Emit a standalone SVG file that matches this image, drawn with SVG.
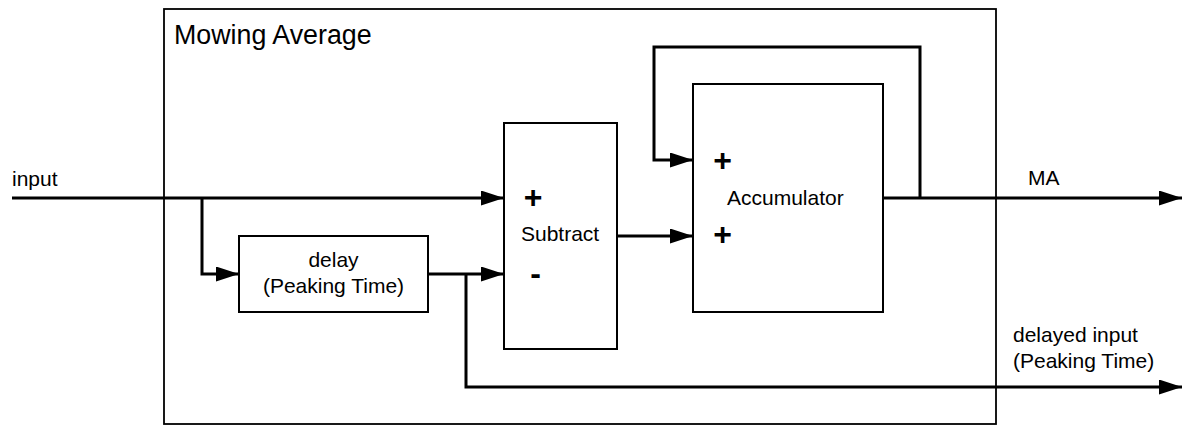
<svg xmlns="http://www.w3.org/2000/svg" width="1185" height="425" viewBox="0 0 1185 425">
<style>
.box{fill:#fff;stroke:#000;stroke-width:2}
.frame{fill:#fff;stroke:#000;stroke-width:1.8}
.wire{fill:none;stroke:#000;stroke-width:3;stroke-linejoin:miter}
.lbl{font-family:"Liberation Sans",Arial,sans-serif;font-size:21px;fill:#000}
.title{font-family:"Liberation Sans",Arial,sans-serif;font-size:26.8px;fill:#000}
.sign{font-family:"Liberation Sans",Arial,sans-serif;font-size:32px;font-weight:bold;fill:#000;text-anchor:middle}
</style>
<defs>
<marker id="arr" markerUnits="userSpaceOnUse" markerWidth="23" markerHeight="15" refX="23" refY="7.5" orient="auto">
<path d="M0,0 L23,7.5 L0,15 Z" fill="#000"/>
</marker>
</defs>
<rect width="1185" height="425" fill="#fff"/>
<g id="mowing-average">
<rect class="frame" x="164" y="9" width="832" height="415"/>
<text class="title" x="174" y="44">Mowing Average</text>
</g>
<g id="delay">
<rect class="box" x="239" y="236" width="189" height="76"/>
<text class="lbl" x="333.5" y="267" text-anchor="middle">delay</text>
<text class="lbl" x="333.5" y="293" text-anchor="middle">(Peaking Time)</text>
</g>
<g id="subtract">
<rect class="box" x="504" y="123" width="113" height="226"/>
<text class="sign" x="533" y="207.5">+</text>
<text class="lbl" x="521" y="241">Subtract</text>
<text class="sign" x="535.5" y="284">-</text>
</g>
<g id="accumulator">
<rect class="box" x="693" y="84" width="190" height="228"/>
<text class="sign" x="722.7" y="171">+</text>
<text class="lbl" x="727" y="205">Accumulator</text>
<text class="sign" x="722.7" y="245">+</text>
</g>
<g id="connectors">
<path class="wire" d="M12,198 H504" marker-end="url(#arr)"/>
<path class="wire" d="M202,198 V274 H239" marker-end="url(#arr)"/>
<path class="wire" d="M428,274 H504" marker-end="url(#arr)"/>
<path class="wire" d="M466,274 V387 H1182" marker-end="url(#arr)"/>
<path class="wire" d="M617,236 H693" marker-end="url(#arr)"/>
<path class="wire" d="M883,198 H1182" marker-end="url(#arr)"/>
<path class="wire" d="M920,198 V47 H654 V160 H693" marker-end="url(#arr)"/>
</g>
<g id="labels">
<text class="lbl" x="12" y="186">input</text>
<text class="lbl" x="1028" y="185">MA</text>
<text class="lbl" x="1013" y="342">delayed input</text>
<text class="lbl" x="1013" y="368">(Peaking Time)</text>
</g>
</svg>
